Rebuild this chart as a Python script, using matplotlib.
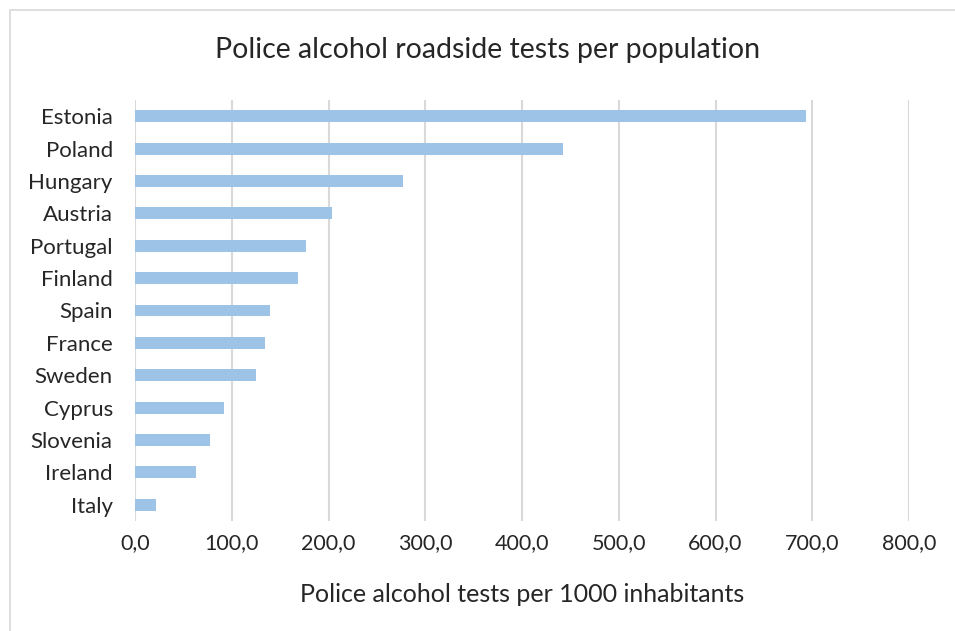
import matplotlib
matplotlib.use("Agg")
import matplotlib.pyplot as plt
from matplotlib.patches import Rectangle
from matplotlib.ticker import FuncFormatter

countries = ["Estonia", "Poland", "Hungary", "Austria", "Portugal", "Finland",
             "Spain", "France", "Sweden", "Cyprus", "Slovenia", "Ireland", "Italy"]
tests_per_1000 = [694.0, 442.5, 277.5, 203.5, 176.5, 168.5,
                  140.0, 134.0, 125.5, 92.5, 78.0, 63.5, 22.0]
x_ticks = [0, 100, 200, 300, 400, 500, 600, 700, 800]

plt.rcParams["font.family"] = ["Lato", "DejaVu Sans"]
text_color = "#262626"

fig = plt.figure(figsize=(9.55, 6.31), dpi=100)
ax = fig.add_axes([135 / 955, 1 - 521 / 631, (909 - 135) / 955, (521 - 100) / 631])

# outer chart frame
fig.patches.append(Rectangle((10 / 955, -0.01), 1.0, 1 - 10 / 631 + 0.01,
                             transform=fig.transFigure, fill=False,
                             edgecolor="#d9d9d9", linewidth=1.2))

pos = list(range(len(countries)))
ax.barh(pos, tests_per_1000, height=0.37, color="#9dc3e6", zorder=3)
ax.set_ylim(len(countries) - 0.5, -0.5)
ax.set_yticks(pos)
ax.set_yticklabels(countries, fontsize=16, color=text_color)

ax.set_xlim(0, 800)
ax.set_xticks(x_ticks)
ax.xaxis.set_major_formatter(FuncFormatter(lambda v, p: f"{v:.1f}".replace(".", ",")))
ax.tick_params(axis="x", labelsize=15.5, colors=text_color, length=0, pad=9)
ax.tick_params(axis="y", length=0, pad=16)
ax.grid(axis="x", color="#d9d9d9", linewidth=1.5, zorder=0)

for s in ax.spines.values():
    s.set_visible(False)

ax.set_xlabel("Police alcohol tests per 1000 inhabitants", fontsize=18,
              color=text_color, labelpad=21)
fig.text(488 / 955, 1 - 50 / 631, "Police alcohol roadside tests per population",
         fontsize=20.5, color=text_color, ha="center", va="center")

fig.savefig("out.png", dpi=100)
